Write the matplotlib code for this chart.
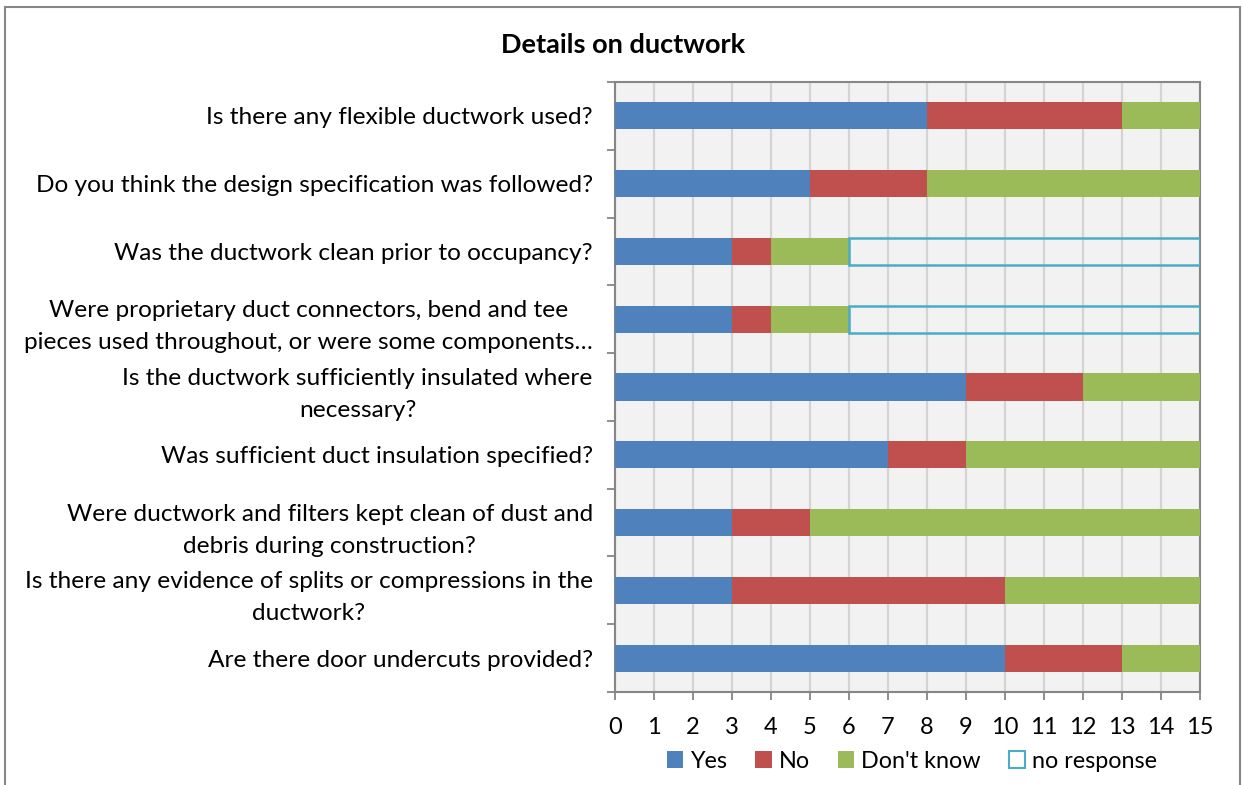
import numpy as np
import matplotlib.pyplot as plt
from matplotlib.patches import Rectangle, Patch

plt.rcParams['font.family'] = ['Lato', 'DejaVu Sans']

questions = [
    "Is there any flexible ductwork used?",
    "Do you think the design specification was followed?",
    "Was the ductwork clean prior to occupancy?",
    "Were proprietary duct connectors, bend and tee\npieces used throughout, or were some components\u2026",
    "Is the ductwork sufficiently insulated where\nnecessary?",
    "Was sufficient duct insulation specified?",
    "Were ductwork and filters kept clean of dust and\ndebris during construction?",
    "Is there any evidence of splits or compressions in the\nductwork?",
    "Are there door undercuts provided?",
]
yes = [8, 5, 3, 3, 9, 7, 3, 3, 10]
no = [5, 3, 1, 1, 3, 2, 2, 7, 3]
dont_know = [2, 7, 2, 2, 3, 6, 10, 5, 2]
no_response = [0, 0, 9, 9, 0, 0, 0, 0, 0]

c_yes = "#4F81BD"
c_no = "#C0504D"
c_dk = "#9BBB59"
c_nr = "#4BACC6"
grey = "#868686"

fig = plt.figure(figsize=(12.42, 7.85), dpi=100)
ax = fig.add_axes([615 / 1242, 1 - 692 / 785, 585 / 1242, 610 / 785])

# outer chart border
fig.patches.append(Rectangle((5 / 1242, -0.02), 1235 / 1242, 1.02 - 7 / 785,
                             transform=fig.transFigure, fill=False,
                             edgecolor=grey, lw=1.5))

y = np.arange(len(questions))
h = 0.4
yes = np.array(yes)
no = np.array(no)
dont_know = np.array(dont_know)
no_response = np.array(no_response)

ax.barh(y, yes, height=h, color=c_yes, zorder=3)
ax.barh(y, no, left=yes, height=h, color=c_no, zorder=3)
ax.barh(y, dont_know, left=yes + no, height=h, color=c_dk, zorder=3)
m = no_response > 0
ax.barh(y[m], no_response[m], left=(yes + no + dont_know)[m], height=h,
        facecolor="none", edgecolor=c_nr, lw=1.8, zorder=3)

ax.set_facecolor("#F2F2F2")
ax.set_xlim(0, 15)
ax.set_ylim(len(questions) - 0.5, -0.5)
ax.set_xticks(range(16))
ax.tick_params(axis="x", labelsize=17, length=6, color=grey, width=1.3, pad=12)
ax.grid(axis="x", color="#D4D4D4", lw=1.6, zorder=0)

ax.set_yticks(y)
ax.set_yticklabels(questions, fontsize=17.6, multialignment="center",
                   linespacing=1.65)
ax.tick_params(axis="y", which="major", length=0, pad=16)
ax.set_yticks(np.arange(len(questions) + 1) - 0.5, minor=True)
ax.tick_params(axis="y", which="minor", length=6, color=grey, width=1.3)

for s in ax.spines.values():
    s.set_color(grey)
    s.set_linewidth(1.5)

fig.text(0.502, 1 - 45 / 785, "Details on ductwork", ha="center", va="center",
         fontsize=19.5, fontweight="bold")

handles = [Patch(facecolor=c_yes, label="Yes"),
           Patch(facecolor=c_no, label="No"),
           Patch(facecolor=c_dk, label="Don't know"),
           Patch(facecolor="none", edgecolor=c_nr, lw=1.5, label="no response")]
fig.legend(handles=handles, loc="center", bbox_to_anchor=(912 / 1242, 1 - 761 / 785),
           ncol=4, frameon=False, fontsize=16.8, handlelength=0.7, handleheight=0.7,
           handletextpad=0.3, columnspacing=1.2)

fig.savefig("out.png", dpi=100)
